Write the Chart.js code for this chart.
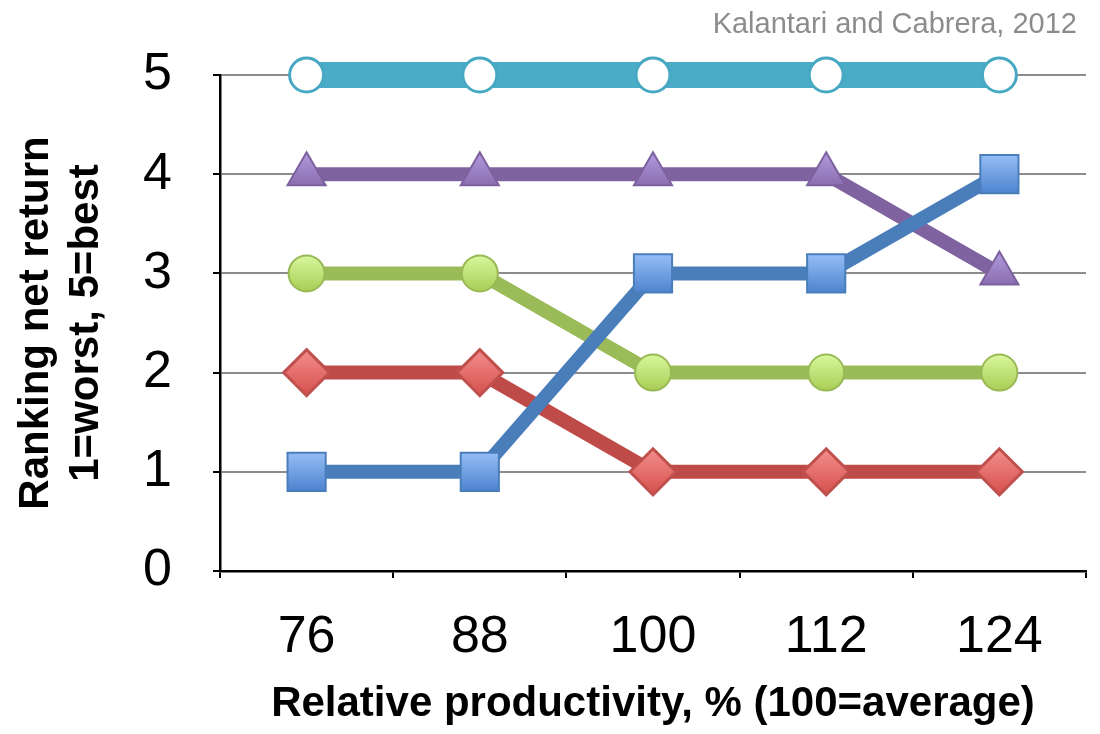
<!DOCTYPE html>
<html>
<head>
<meta charset="utf-8">
<script src="https://cdn.jsdelivr.net/npm/chart.js@4/dist/chart.umd.min.js"></script>
<style>
    body { margin: 0; background: #ffffff; }
    #wrap { width: 1100px; height: 734px; position: relative; }
</style>
</head>
<body>
<div id="wrap"><canvas id="rankChart"></canvas></div>
<script>
// relative productivity (% of average) and rank of net return, 1=worst 5=best
const productivity = ['76', '88', '100', '112', '124']
const rankBlue   = [1, 1, 3, 3, 4]
const rankRed    = [2, 2, 1, 1, 1]
const rankGreen  = [3, 3, 2, 2, 2]
const rankPurple = [4, 4, 4, 4, 3]
const rankTeal   = [5, 5, 5, 5, 5]
const yTicks = [0, 1, 2, 3, 4, 5]
const sourceNote = 'Kalantari and Cabrera, 2012'

const fontFamily = "'Liberation Sans', Arial, Helvetica, sans-serif"

// vertical gradient for each marker, light on top and darker at the bottom
function markerGradient(top, bottom, r){
    return function(context){
        const chart = context.chart
        const yScale = chart.scales.y
        if (!yScale || !context.parsed) return bottom
        const py = yScale.getPixelForValue(context.parsed.y)
        if (!Number.isFinite(py)) return bottom
        const g = chart.ctx.createLinearGradient(0, py - r, 0, py + r)
        g.addColorStop(0, top)
        g.addColorStop(1, bottom)
        return g
    }
}

const sourcePlugin = {
    id: 'sourceNote',
    afterDraw(chart){
        const c = chart.ctx
        c.save()
        c.font = `29px ${fontFamily}`
        c.fillStyle = '#8c8c8c'
        c.textAlign = 'right'
        c.textBaseline = 'alphabetic'
        c.fillText(sourceNote, 1077, 33)
        c.restore()
    }
}

// first dataset is drawn on top, so blue goes first
const datasets = [
    {
        label: 'Blue',
        data: rankBlue,
        borderColor: '#4a7ebb',
        borderWidth: 14,
        pointStyle: 'rect',
        pointRadius: 27,
        pointBackgroundColor: markerGradient('#95bdf5', '#4d84cf', 19),
        pointBorderColor: '#4a7ebb',
        pointBorderWidth: 2
    },
    {
        label: 'Red',
        data: rankRed,
        borderColor: '#be4b48',
        borderWidth: 14,
        pointStyle: 'rectRot',
        pointRadius: 23,
        pointBackgroundColor: markerGradient('#f38e8c', '#d6504d', 23),
        pointBorderColor: '#c0504d',
        pointBorderWidth: 3
    },
    {
        label: 'Green',
        data: rankGreen,
        borderColor: '#9bbb59',
        borderWidth: 14,
        pointStyle: 'circle',
        pointRadius: 18,
        pointBackgroundColor: markerGradient('#d9f79d', '#a9cd55', 18),
        pointBorderColor: '#98b954',
        pointBorderWidth: 2
    },
    {
        label: 'Purple',
        data: rankPurple,
        borderColor: '#7f63a1',
        borderWidth: 14,
        pointStyle: 'triangle',
        pointRadius: 22,
        pointBackgroundColor: markerGradient('#aa93d6', '#8467a8', 16),
        pointBorderColor: '#7d619f',
        pointBorderWidth: 2
    },
    {
        label: 'Teal',
        data: rankTeal,
        borderColor: '#4aacc6',
        borderWidth: 26,
        pointStyle: 'circle',
        pointRadius: 17,
        pointBackgroundColor: '#ffffff',
        pointBorderColor: '#46a8c3',
        pointBorderWidth: 3
    }
]
datasets.forEach((d) => {
    d.tension = 0
    d.clip = false
    d.fill = false
    d.pointHoverRadius = d.pointRadius
})

new Chart(document.getElementById('rankChart').getContext('2d'), {
    type: 'line',
    data: {
        labels: productivity,
        datasets
    },
    plugins: [sourcePlugin],
    options: {
        responsive: true,
        maintainAspectRatio: false,
        animation: false,
        events: [],
        layout: {
            autoPadding: false,
            padding: { top: 75, right: 14, bottom: 0, left: 0 }
        },
        plugins: {
            legend: { display: false },
            tooltip: { enabled: false }
        },
        scales: {
            x: {
                offset: true,
                grid: {
                    offset: true,
                    drawOnChartArea: false,
                    drawTicks: true,
                    tickLength: 7,
                    tickColor: '#000000',
                    lineWidth: 2
                },
                border: { display: true, color: '#000000', width: 2.5 },
                ticks: {
                    color: '#000000',
                    padding: 28,
                    maxRotation: 0,
                    font: { family: fontFamily, size: 52 }
                },
                title: {
                    display: true,
                    text: 'Relative productivity, % (100=average)',
                    color: '#000000',
                    font: { family: fontFamily, size: 42, weight: 'bold', lineHeight: 1.2 },
                    padding: { top: 0, bottom: 4 }
                },
                afterFit(scale){
                    scale.height = 163
                }
            },
            y: {
                min: 0,
                max: 5,
                afterBuildTicks(scale){
                    scale.ticks = yTicks.map((v) => ({ value: v }))
                },
                grid: {
                    color: '#8c8c8c',
                    lineWidth: 2,
                    drawTicks: true,
                    tickLength: 7,
                    tickColor: '#000000'
                },
                border: { display: true, color: '#000000', width: 2.5 },
                ticks: {
                    color: '#000000',
                    padding: 41,
                    font: { family: fontFamily, size: 52 }
                },
                title: {
                    display: true,
                    text: ['Ranking net return', '1=worst, 5=best'],
                    color: '#000000',
                    font: { family: fontFamily, size: 42, weight: 'bold', lineHeight: 1.2 },
                    padding: { top: 11, bottom: 0 }
                },
                afterFit(scale){
                    scale.width = 220
                }
            }
        }
    }
})
</script>
</body>
</html>
